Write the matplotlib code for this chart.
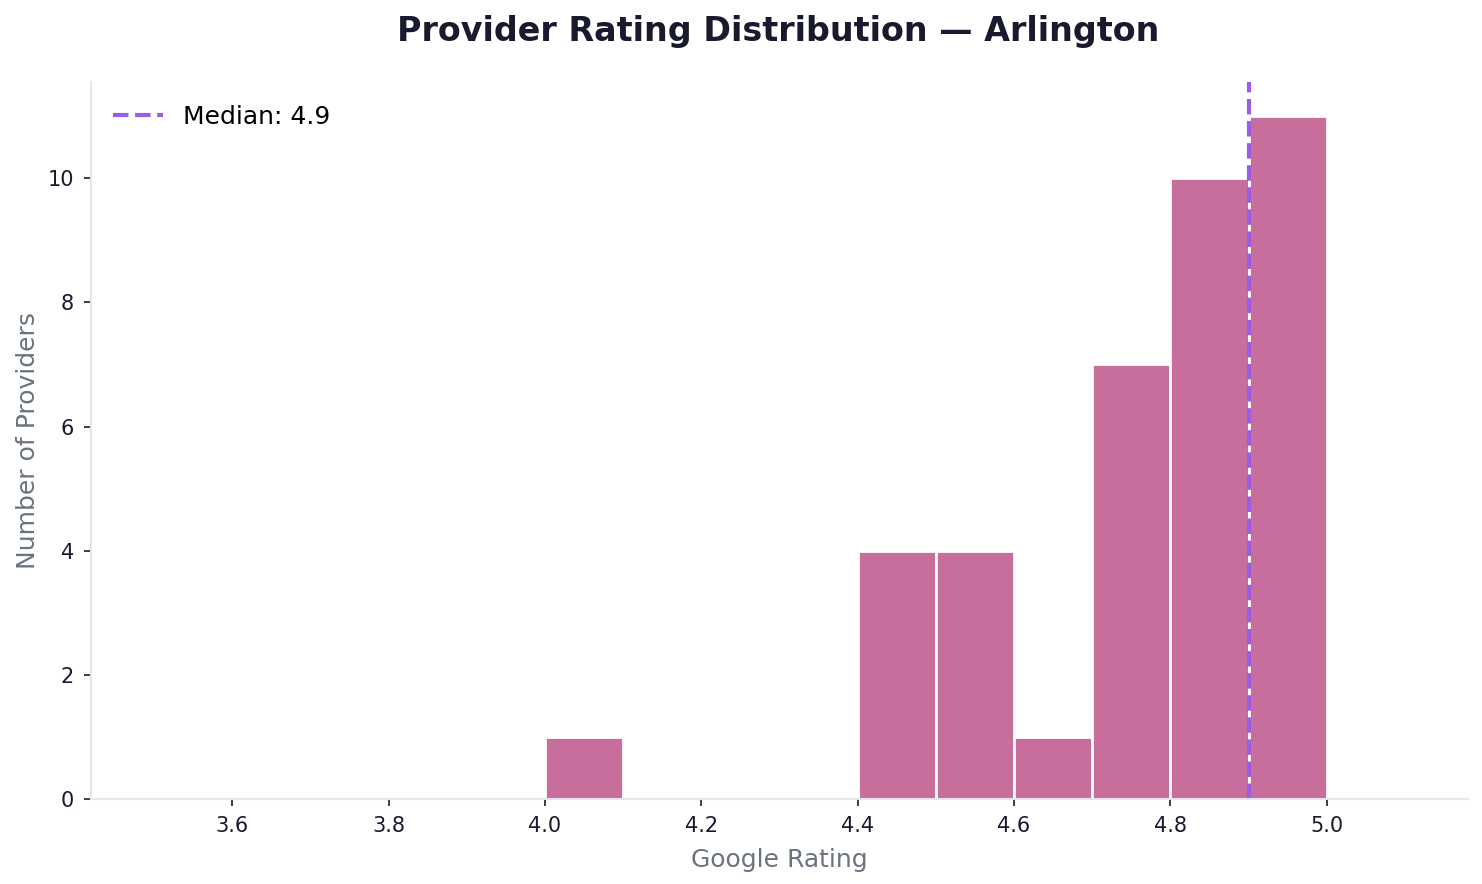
import matplotlib
matplotlib.use("Agg")
import matplotlib.pyplot as plt
import numpy as np

bin_edges = [3.5, 3.6, 3.7, 3.8, 3.9, 4.0, 4.1, 4.2, 4.3, 4.4, 4.5, 4.6, 4.7, 4.8, 4.9, 5.0]
bin_counts = [0, 0, 0, 0, 0, 1, 0, 0, 0, 4, 4, 1, 7, 10, 11]
median_rating = 4.9
x_ticks = [3.6, 3.8, 4.0, 4.2, 4.4, 4.6, 4.8, 5.0]

bar_color = "#c76e9c"
median_color = "#9b5de5"
text_dark = "#1a1a2e"
label_gray = "#6b7280"
spine_gray = "#e5e5ea"

fig = plt.figure(figsize=(14.82, 8.84), dpi=100)
ax = fig.add_axes([90.5/1482, 1-799/884, (1468-90.5)/1482, (799-82)/884])

centers = [(a + b) / 2 for a, b in zip(bin_edges[:-1], bin_edges[1:])]
ax.hist(centers, bins=bin_edges, weights=bin_counts, color=bar_color,
        edgecolor="white", linewidth=2)
ax.axvline(median_rating, color=median_color, linestyle="--", linewidth=3,
           label=f"Median: {median_rating}")

ax.set_xlim(3.4185, 5.1807)
ax.set_ylim(0, 11.55)
ax.set_xticks(x_ticks)
ax.set_xticklabels([f"{t:.1f}" for t in x_ticks])
ax.set_yticks([0, 2, 4, 6, 8, 10])

for s in ["top", "right"]:
    ax.spines[s].set_visible(False)
for s in ["left", "bottom"]:
    ax.spines[s].set_color(spine_gray)
    ax.spines[s].set_linewidth(1.5)

ax.tick_params(axis="both", labelsize=15, colors=text_dark, length=5, width=1.2, pad=7)
ax.set_xlabel("Google Rating", fontsize=18, color=label_gray, labelpad=9)
ax.set_ylabel("Number of Providers", fontsize=18, color=label_gray, labelpad=5)
fig.suptitle("Provider Rating Distribution — Arlington", fontsize=24,
             fontweight="bold", color=text_dark, x=(90+1466)/2/1482, y=1-31/884, va="center")

leg = ax.legend(loc="upper left", frameon=False, fontsize=18)

fig.savefig("out.png", dpi=100)
